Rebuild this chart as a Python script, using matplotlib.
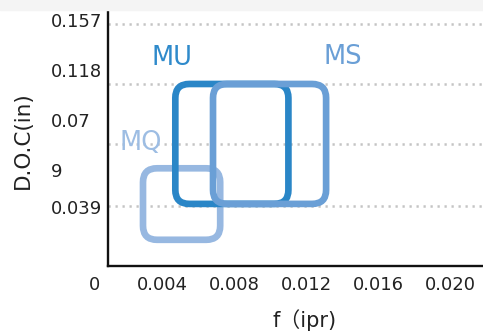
import matplotlib.pyplot as plt
from matplotlib.patches import FancyBboxPatch, Rectangle

# feed (ipr) and depth of cut (in) ranges per grade
grades = ['MQ', 'MU', 'MS']
f_lo = [0.0029, 0.0047, 0.0068]
f_hi = [0.0072, 0.0110, 0.0131]
doc_lo = [0.0170, 0.0403, 0.0403]
doc_hi = [0.0634, 0.1181, 0.1181]
box_colors = ['#97b8e1', '#2a86c7', '#6a9fd6']
text_colors = ['#9dbde3', '#2f8acb', '#6a9fd6']
label_x = [0.0028, 0.0045, 0.0140]
label_y = [0.0754, 0.1305, 0.1311]

xtick_vals = [0, 0.004, 0.008, 0.012, 0.016, 0.020]
xtick_labels = ['0', '0.004', '0.008', '0.012', '0.016', '0.020']
grid_vals = [0.039, 0.079, 0.118, 0.157]
ytick_labels = ['0.157', '0.118', '0.07', '9', '0.039']
ytick_baseline_px = [27, 77, 127, 177, 214]

W, H = 483, 333
XMIN, XMAX, YMAX = 0.00095, 0.02184, 0.1661

fig = plt.figure(figsize=(W / 100, H / 100), dpi=100)
fig.patches.append(Rectangle((0, 1 - 10 / H), 1, 10 / H, transform=fig.transFigure,
                             color='#f4f4f4', zorder=0))

ax = fig.add_axes([108 / W, (H - 266) / H, (W - 108) / W, 256 / H])
ax.set_xlim(XMIN, XMAX)
ax.set_ylim(0, YMAX)
for s in ['top', 'right']:
    ax.spines[s].set_visible(False)
for s in ['left', 'bottom']:
    ax.spines[s].set_linewidth(1.7)
    ax.spines[s].set_color('#111111')
ax.set_xticks([])
ax.set_yticks([])

for g in grid_vals:
    ax.axhline(g, color='#c4c4c4', lw=1.8, ls=(0, (0.9, 1.9)), zorder=1)

# x/y data units per pixel, so the rounded corners stay circular
x_per_px = (XMAX - XMIN) / (W - 108)
y_per_px = YMAX / 256
radius_px = 14
for i in range(len(grades)):
    box = FancyBboxPatch((f_lo[i], doc_lo[i]), f_hi[i] - f_lo[i], doc_hi[i] - doc_lo[i],
                         boxstyle=f'round,pad=0,rounding_size={radius_px * x_per_px}',
                         mutation_aspect=y_per_px / x_per_px,
                         fill=False, ec=box_colors[i], lw=4.8, zorder=3 + i)
    ax.add_patch(box)
    ax.text(label_x[i], label_y[i], grades[i], color=text_colors[i], fontsize=18.5,
            ha='center', va='baseline', zorder=2)

# tick labels: x under the axis, y in a fixed column at the left
for v, lab in zip(xtick_vals, xtick_labels):
    xv = v + 0.0002 if v == 0 else v
    ax.text(xv, -24 / 256, lab, transform=ax.get_xaxis_transform(),
            ha='center', va='baseline', fontsize=13, color='#222222', clip_on=False)

for lab, py in zip(ytick_labels, ytick_baseline_px):
    fig.text(51 / W, 1 - py / H, lab, ha='left', va='baseline', fontsize=13, color='#222222')

fig.text(305 / W, 1 - 327 / H, 'f（ipr)', ha='center', va='baseline', fontsize=15,
         color='#222222', family=['DejaVu Sans', 'Noto Sans CJK SC'])
fig.text(23 / W, 1 - 140 / H, 'D.O.C(in)', ha='center', va='center', rotation=90,
         fontsize=15.5, color='#222222')

fig.savefig('out.png', dpi=100)
